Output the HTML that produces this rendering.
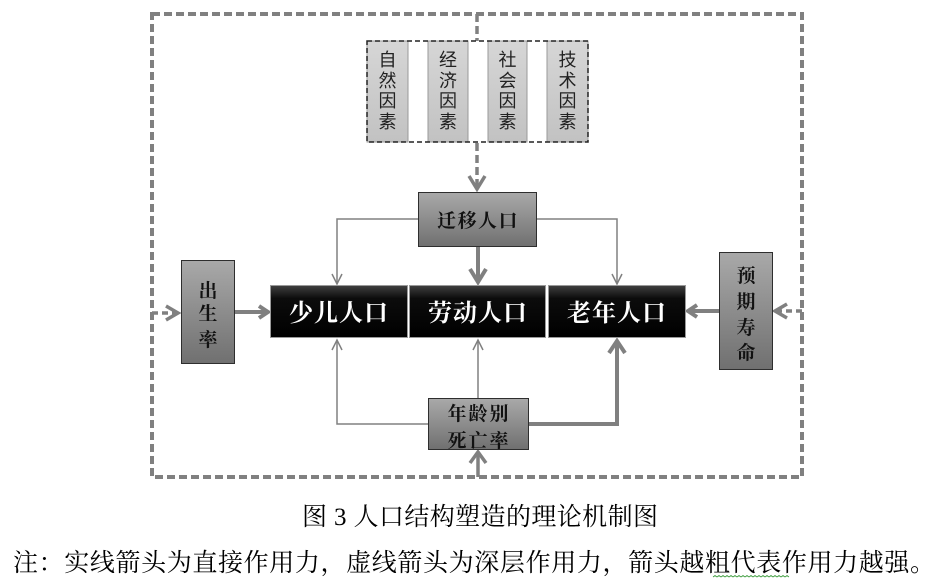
<!DOCTYPE html>
<html><head><meta charset="utf-8"><style>
html,body{margin:0;padding:0;background:#fff;}
svg{display:block;}
</style></head><body>
<svg width="943" height="583" viewBox="0 0 943 583" xmlns="http://www.w3.org/2000/svg">
<defs>
<linearGradient id="gg" x1="0" y1="0" x2="0" y2="1">
<stop offset="0" stop-color="#a9a9a9"/><stop offset="1" stop-color="#707070"/>
</linearGradient>
<linearGradient id="bg" x1="0" y1="0" x2="0" y2="1">
<stop offset="0" stop-color="#404040"/><stop offset="0.25" stop-color="#0c0c0c"/><stop offset="1" stop-color="#000"/>
</linearGradient>
<linearGradient id="fg" x1="0" y1="0" x2="0" y2="1">
<stop offset="0" stop-color="#d6d6d6"/><stop offset="1" stop-color="#c2c2c2"/>
</linearGradient>
</defs>

<!-- outer dashed border -->
<rect x="152" y="14" width="650" height="463" fill="none" stroke="#808080" stroke-width="4" stroke-dasharray="8 4"/>

<!-- dashed connectors -->
<g stroke="#808080" stroke-width="3.5" fill="none">
<line x1="477" y1="14" x2="477" y2="41" stroke-dasharray="8 4"/>
<line x1="477" y1="143" x2="477" y2="186" stroke-dasharray="8 4"/>
<polyline points="469,176 477,189 485,176" stroke-linejoin="miter"/>
<line x1="152" y1="313" x2="176" y2="313" stroke-dasharray="6 4"/>
<polyline points="166,306 178,313 166,320"/>
<line x1="802" y1="311" x2="777" y2="311" stroke-dasharray="6 4"/>
<polyline points="787,304 775,311 787,318"/>
<line x1="478" y1="477" x2="478" y2="454"/>
<polyline points="470,463 478,452 486,463"/>
</g>

<!-- factor group -->
<g>
<rect x="367" y="41" width="41" height="101" fill="url(#fg)" stroke="#9a9a9a" stroke-width="1"/>
<rect x="428" y="41" width="40" height="101" fill="url(#fg)" stroke="#9a9a9a" stroke-width="1"/>
<rect x="488" y="41" width="39" height="101" fill="url(#fg)" stroke="#9a9a9a" stroke-width="1"/>
<rect x="547" y="41" width="41" height="101" fill="url(#fg)" stroke="#9a9a9a" stroke-width="1"/>
<rect x="367" y="41" width="221" height="101" fill="none" stroke="#222" stroke-width="1.5" stroke-dasharray="5 3"/>
</g>
<g font-family="'Liberation Sans','Noto Sans CJK SC',sans-serif" font-size="18" fill="#222" text-anchor="middle">
<text x="387.5" y="66">自</text><text x="387.5" y="87">然</text><text x="387.5" y="107">因</text><text x="387.5" y="128">素</text>
<text x="448" y="66">经</text><text x="448" y="87">济</text><text x="448" y="107">因</text><text x="448" y="128">素</text>
<text x="507.5" y="66">社</text><text x="507.5" y="87">会</text><text x="507.5" y="107">因</text><text x="507.5" y="128">素</text>
<text x="567.5" y="66">技</text><text x="567.5" y="87">术</text><text x="567.5" y="107">因</text><text x="567.5" y="128">素</text>
</g>

<!-- thin connectors -->
<g stroke="#808080" stroke-width="1.5" fill="none">
<polyline points="418,219 337,219 337,284"/>
<polyline points="332,274 337,284 342,274"/>
<polyline points="537,219 617,219 617,284"/>
<polyline points="612,274 617,284 622,274"/>
<polyline points="428,424 337,424 337,340"/>
<polyline points="332,350 337,340 342,350"/>
<line x1="478" y1="398" x2="478" y2="340"/>
<polyline points="473,350 478,340 483,350"/>
</g>

<!-- thick connectors -->
<g stroke="#808080" stroke-width="4" fill="none">
<line x1="478" y1="247" x2="478" y2="281"/>
<polyline points="470,269 478,282 486,269"/>
<line x1="235" y1="312" x2="265" y2="312"/>
<polyline points="259,306 268,312 259,318"/>
<line x1="719" y1="311" x2="691" y2="311"/>
<polyline points="697,305 688,311 697,317"/>
<polyline points="529,424 617,424 617,342"/>
<polyline points="609,353 617,341 625,353"/>
</g>

<!-- gray boxes -->
<g stroke="#2e2e2e" stroke-width="1" fill="url(#gg)">
<rect x="418.5" y="192.5" width="118" height="54"/>
<rect x="181.5" y="260.5" width="53" height="103"/>
<rect x="719.5" y="252.5" width="53" height="117"/>
<rect x="428.5" y="398.5" width="100" height="51"/>
</g>

<!-- black boxes -->
<g stroke="#9a9a9a" stroke-width="1" fill="url(#bg)">
<rect x="270.5" y="285.5" width="137" height="52"/>
<rect x="409.5" y="285.5" width="136" height="52"/>
<rect x="548.5" y="285.5" width="137" height="52"/>
</g>

<g font-family="'Liberation Serif','Noto Serif CJK SC',serif" font-weight="bold" text-anchor="middle">
<g fill="#fff" font-size="24" letter-spacing="1">
<text x="339" y="321">少儿人口</text>
<text x="478" y="321">劳动人口</text>
<text x="617" y="321">老年人口</text>
</g>
<g fill="#111" font-size="19">
<text x="478" y="227" letter-spacing="1.5">迁移人口</text>
<text x="208" y="297">出</text><text x="208" y="320">生</text><text x="208" y="346">率</text>
<text x="746" y="282">预</text><text x="746" y="308">期</text><text x="746" y="334">寿</text><text x="746" y="359">命</text>
<text x="479" y="420" letter-spacing="2">年龄别</text>
<text x="479" y="447" letter-spacing="2">死亡率</text>
</g>
</g>

<!-- caption and note -->
<g font-family="'Liberation Serif','Noto Serif CJK SC',serif" fill="#000" font-size="25">
<text x="302" y="525" textLength="356" lengthAdjust="spacing">图 3 人口结构塑造的理论机制图</text>
<text x="13" y="571" textLength="922" lengthAdjust="spacing">注：实线箭头为直接作用力，虚线箭头为深层作用力，箭头越粗代表作用力越强。</text>
</g>
<path d="M713 577 l2 -1.5 l2 1.5 l2 -1.5 l2 1.5 l2 -1.5 l2 1.5 l2 -1.5 l2 1.5 l2 -1.5 l2 1.5 l2 -1.5 l2 1.5 l2 -1.5 l2 1.5 l2 -1.5 l2 1.5 l2 -1.5 l2 1.5 l2 -1.5 l2 1.5 l2 -1.5 l2 1.5 l2 -1.5 l2 1.5 l2 -1.5 l2 1.5 l2 -1.5 l2 1.5 l2 -1.5 l2 1.5 l2 -1.5 l2 1.5 l2 -1.5 l2 1.5 l2 -1.5 l2 1.5 l2 -1.5 l2 1.5" fill="none" stroke="#3a9a3a" stroke-width="0.8"/>
</svg>
</body></html>
